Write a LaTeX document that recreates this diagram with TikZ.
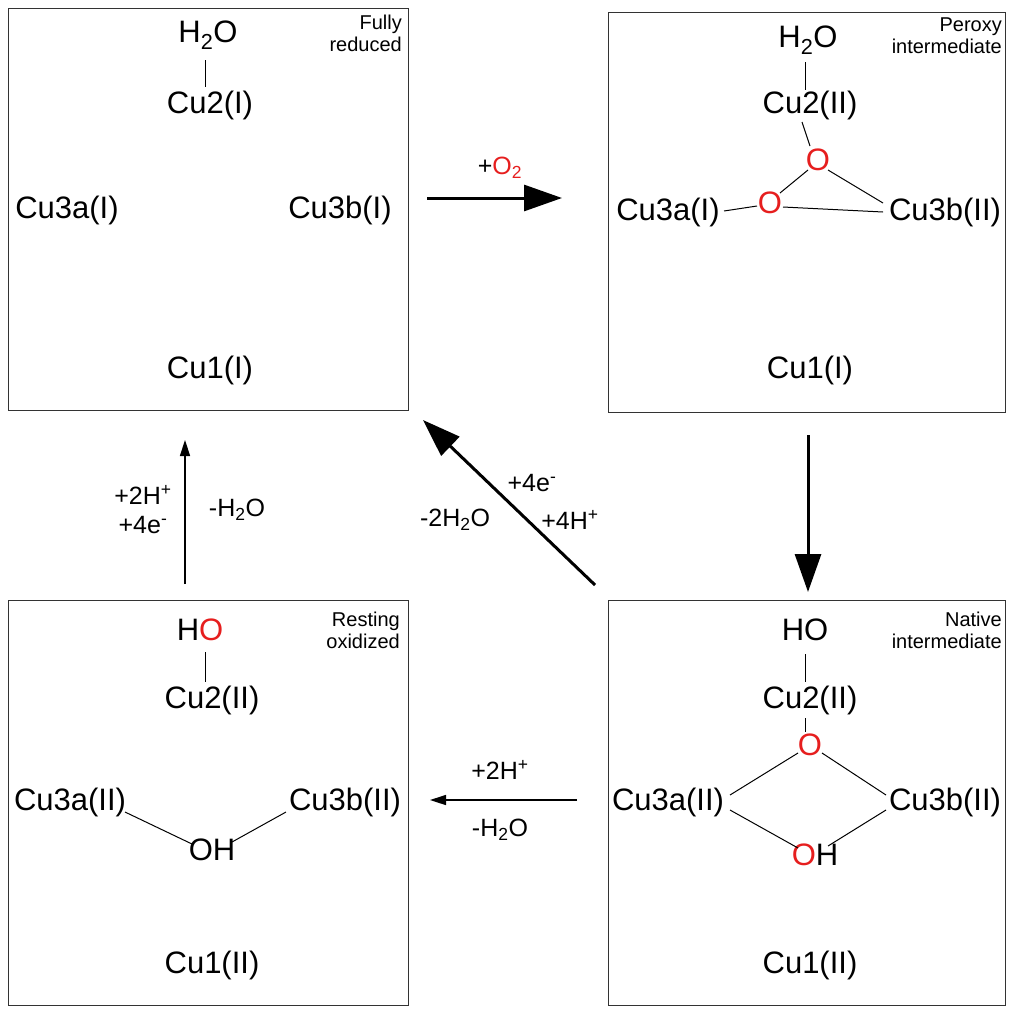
\documentclass[tikz,border=0pt]{standalone}
\usepackage{fontspec}
\setmainfont{Liberation Sans}
\usetikzlibrary{arrows.meta}
\definecolor{ored}{RGB}{230,30,30}
\begin{document}
\begin{tikzpicture}[x=1pt,y=-1pt,
  box/.style={draw=black!80,line width=0.8pt},
  lab/.style={font=\fontsize{31}{34}\selectfont,inner sep=0pt},
  sm/.style={font=\fontsize{20}{22}\selectfont,align=right,inner sep=0pt,anchor=north east},
  rl/.style={font=\fontsize{25}{29}\selectfont,inner sep=0pt},
  bd/.style={line width=1pt},
  thick arr/.style={line width=3pt,-{Triangle[length=38pt,width=26pt]}},
  thin arr/.style={line width=1.5pt,-{Triangle[length=16pt,width=10pt]}}]
\useasboundingbox (0,0) rectangle (1024,1020);
\newcommand{\ox}{\textcolor{ored}{O}}
% boxes
\draw[box] (8,8) rectangle (408,410);
\draw[box] (608,12) rectangle (1005,412);
\draw[box] (8,600) rectangle (408,1005);
\draw[box] (608,600) rectangle (1005,1005);
% TL
\node[lab] (a1) at (208,35) {H\textsubscript{2}O};
\node[lab] (a2) at (210,105) {Cu2(I)};
\node[lab] (a3) at (67,210) {Cu3a(I)};
\node[lab] (a4) at (340,210) {Cu3b(I)};
\node[lab] (a5) at (210,370) {Cu1(I)};
\node[sm] (a6) at (402,15) {Fully\\reduced};
\draw[bd] (205,60) -- (205,87);
% TR
\node[lab] (b1) at (808,40) {H\textsubscript{2}O};
\node[lab] (b2) at (810,105) {Cu2(II)};
\node[lab,text=ored] (b3) at (818,160) {O};
\node[lab,text=ored] (b4) at (770,203) {O};
\node[lab] (b5) at (668,212) {Cu3a(I)};
\node[lab] (b6) at (945,212) {Cu3b(II)};
\node[lab] (b7) at (810,370) {Cu1(I)};
\node[sm] (b8) at (1002,18) {Peroxy\\intermediate};
\draw[bd] (805,62) -- (805,90);
\draw[bd] (802,122) -- (810,146);
\draw[bd] (808,170) -- (780,193);
\draw[bd] (828,170) -- (883,203);
\draw[bd] (783,207) -- (883,212);
\draw[bd] (724,211) -- (757,206);
% BR
\node[lab] (c1) at (805,630) {HO};
\node[lab] (c2) at (810,700) {Cu2(II)};
\node[lab,text=ored] (c3) at (810,745) {O};
\node[lab] (c4) at (668,802) {Cu3a(II)};
\node[lab] (c5) at (945,802) {Cu3b(II)};
\node[lab] (c6) at (815,855) {\ox H};
\node[lab] (c7) at (810,965) {Cu1(II)};
\node[sm] (c8) at (1002,612) {Native\\intermediate};
\draw[bd] (805,654) -- (805,682);
\draw[bd] (805,718) -- (805,732);
\draw[bd] (798,753) -- (730,795);
\draw[bd] (822,753) -- (886,795);
\draw[bd] (730,810) -- (798,848);
\draw[bd] (886,810) -- (828,846);
% BL
\node[lab] (d1) at (200,630) {H\ox};
\node[lab] (d2) at (212,700) {Cu2(II)};
\node[lab] (d3) at (70,802) {Cu3a(II)};
\node[lab] (d4) at (345,802) {Cu3b(II)};
\node[lab] (d5) at (212,850) {OH};
\node[lab] (d6) at (212,965) {Cu1(II)};
\node[sm] (d7) at (400,612) {Resting\\oxidized};
\draw[bd] (205,652) -- (205,682);
\draw[bd] (125,812) -- (192,844);
\draw[bd] (286,812) -- (232,842);
% arrows
\coordinate (p1) at (427,198); \coordinate (p2) at (562,198);
\draw[thick arr] (p1) -- (p2);
\node[rl] (l1) at (500,168) {+\textcolor{ored}{O\textsubscript{2}}};
\coordinate (p3) at (808,435); \coordinate (p4) at (808,592);
\draw[thick arr] (p3) -- (p4);
\coordinate (p5) at (577,800); \coordinate (p6) at (430,800);
\draw[thin arr] (p5) -- (p6);
\node[rl] (l2) at (500,770) {+2H\textsuperscript{+}};
\node[rl] (l3) at (500,830) {-H\textsubscript{2}O};
\coordinate (p7) at (185,584); \coordinate (p8) at (185,440);
\draw[thin arr] (p7) -- (p8);
\node[rl,align=center] (l4) at (143,510) {+2H\textsuperscript{+}\\+4e\textsuperscript{-}};
\node[rl] (l5) at (237,510) {-H\textsubscript{2}O};
\coordinate (p9) at (595,585); \coordinate (p10) at (423,420);
\draw[thick arr] (p9) -- (p10);
\node[rl] (l6) at (532,483) {+4e\textsuperscript{-}};
\node[rl] (l7) at (570,520) {+4H\textsuperscript{+}};
\node[rl] (l8) at (455,520) {-2H\textsubscript{2}O};
\end{tikzpicture}
\end{document}
